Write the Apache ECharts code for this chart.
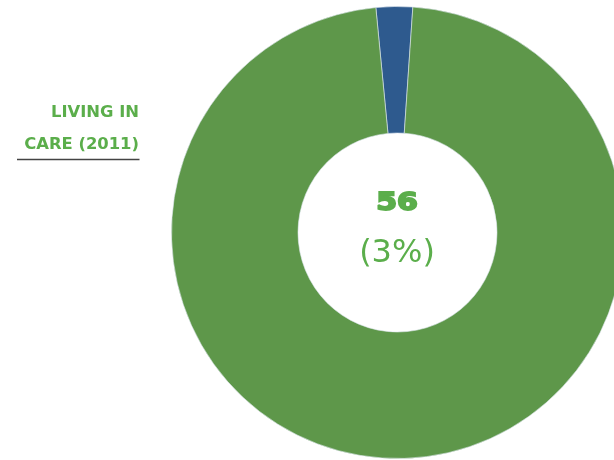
<!DOCTYPE html>
<html>
<head>
<meta charset="utf-8">
<script src="https://cdn.jsdelivr.net/npm/echarts@6/dist/echarts.min.js"></script>
<style>
html,body{margin:0;padding:0;background:#fff;}
#c{width:614px;height:460px;}
</style>
</head>
<body>
<div id="c"></div>
<script>
const categories = ['Living in care', 'Other'];
const values = [56, 2090];
const colors = ['#2E5A8E', '#5E974A'];
const centerValue = '56';
const centerPct = '(3%)';
const titleLines = ['LIVING IN', 'CARE (2011)'];

const chart = echarts.init(document.getElementById('c'), null, {renderer: 'canvas'});
chart.setOption({
  animation: false,
  series: [{
    type: 'pie',
    center: [397.5, 232.5],
    radius: [99.5, 226],
    startAngle: 95.5,
    clockwise: true,
    label: {show: false},
    labelLine: {show: false},
    emphasis: {disabled: true},
    itemStyle: {borderColor: '#dfe8f0', borderWidth: 0.6},
    data: categories.map((n, i) => ({name: n, value: values[i], itemStyle: {color: colors[i]}}))
  }],
  graphic: [
    {type: 'text', x: 139, y: 113, style: {text: titleLines[0], align: 'right', verticalAlign: 'middle', fontFamily: 'DejaVu Sans', fontWeight: 'bold', fontSize: 16.4, fill: '#5BAE4B'}},
    {type: 'text', x: 139, y: 144.5, style: {text: titleLines[1], align: 'right', verticalAlign: 'middle', fontFamily: 'DejaVu Sans', fontWeight: 'bold', fontSize: 16.4, fill: '#5BAE4B'}},
    {type: 'line', shape: {x1: 17, y1: 159.5, x2: 139.5, y2: 159.5}, style: {stroke: '#444', lineWidth: 1.5}},
    {type: 'text', x: 397, y: 203, scaleX: 1.2, style: {text: centerValue, align: 'center', verticalAlign: 'middle', fontFamily: 'DejaVu Sans', fontWeight: 'bold', fontSize: 25, fill: '#5BAE4B', stroke: '#5BAE4B', lineWidth: 1.8}},
    {type: 'text', x: 397, y: 254, style: {text: centerPct, align: 'center', verticalAlign: 'middle', fontFamily: 'DejaVu Sans', fontWeight: 'normal', fontSize: 32, fill: '#5BAE4B'}}
  ]
});
</script>
</body>
</html>
